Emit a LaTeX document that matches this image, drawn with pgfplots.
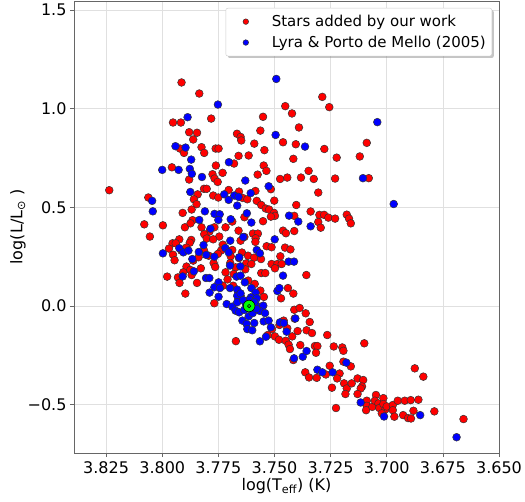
\documentclass[border=0pt]{standalone}
\usepackage{pgfplots}
\pgfplotsset{compat=1.18}
\usepackage{pgfplotstable}
\usepackage{fontspec}
\setmainfont{DejaVu Sans}
\usetikzlibrary{shadows}

\pgfplotstableread{
x y
3.7914 1.133
3.7835 1.077
3.7287 1.060
3.7256 1.008
3.7452 1.013
3.7422 0.976
3.7551 0.959
3.7782 0.950
3.7952 0.930
3.7917 0.930
3.7391 0.905
3.7563 0.889
3.7880 0.881
3.7845 0.878
3.7667 0.873
3.7651 0.857
3.7648 0.839
3.7862 0.844
3.7462 0.830
3.7590 0.823
3.7405 0.820
3.7089 0.827
3.7825 0.805
3.7762 0.798
3.7749 0.798
3.7921 0.798
3.7278 0.796
3.7545 0.790
3.7903 0.776
3.7813 0.776
3.7660 0.761
3.7615 0.763
3.7120 0.758
3.7223 0.752
3.7416 0.746
3.7761 0.712
3.7680 0.722
3.7548 0.712
3.7957 0.703
3.7536 0.685
3.7731 0.675
3.7575 0.666
3.7776 0.668
3.7767 0.646
3.7753 0.629
3.7880 0.641
3.7348 0.685
3.7325 0.644
3.7475 0.644
3.7443 0.651
3.7382 0.651
3.7230 0.646
3.7080 0.648
3.8236 0.587
3.7814 0.594
3.7802 0.594
3.7704 0.588
3.7658 0.580
3.7585 0.583
3.7516 0.592
3.7305 0.575
3.7842 0.566
3.7773 0.560
3.7750 0.550
3.7859 0.541
3.8062 0.550
3.7642 0.548
3.7621 0.541
3.7579 0.533
3.7501 0.534
3.7403 0.512
3.7847 0.516
3.7559 0.512
3.7539 0.494
3.7524 0.489
3.7869 0.489
3.7339 0.479
3.7909 0.472
3.7502 0.472
3.7498 0.457
3.7516 0.453
3.7300 0.462
3.7279 0.462
3.7178 0.463
3.7168 0.443
3.7160 0.419
3.7260 0.448
3.7230 0.443
3.7412 0.457
3.7634 0.450
3.7688 0.428
3.7551 0.430
3.7865 0.435
3.7899 0.399
3.7874 0.419
3.8080 0.414
3.7997 0.409
3.7825 0.399
3.7768 0.399
3.7718 0.399
3.7462 0.382
3.7449 0.369
3.7412 0.380
3.7305 0.426
3.7294 0.397
3.8055 0.352
3.7660 0.382
3.7790 0.377
3.7813 0.364
3.7746 0.352
3.7596 0.367
3.7574 0.367
3.7634 0.350
3.7584 0.343
3.7802 0.342
3.7773 0.338
3.7924 0.338
3.7871 0.335
3.7877 0.321
3.7954 0.318
3.7940 0.318
3.7651 0.331
3.7585 0.325
3.7730 0.311
3.7535 0.303
3.7513 0.298
3.7453 0.296
3.7429 0.287
3.7970 0.291
3.7915 0.281
3.7893 0.296
3.7814 0.282
3.7738 0.281
3.7688 0.284
3.7645 0.271
3.7618 0.255
3.7952 0.260
3.7945 0.232
3.7862 0.230
3.7838 0.247
3.7793 0.255
3.7752 0.264
3.7695 0.252
3.7658 0.243
3.7591 0.245
3.7560 0.238
3.7474 0.252
3.7513 0.213
3.7487 0.213
3.7468 0.213
3.7498 0.191
3.7771 0.218
3.7764 0.198
3.7697 0.218
3.7626 0.216
3.7603 0.213
3.7673 0.196
3.7630 0.186
3.7892 0.200
3.7875 0.183
3.7828 0.191
3.7906 0.171
3.7978 0.149
3.7930 0.145
3.7869 0.157
3.7718 0.171
3.7682 0.162
3.7559 0.167
3.7541 0.167
3.7358 0.157
3.7923 0.117
3.7845 0.117
3.7709 0.135
3.7730 0.103
3.7617 0.129
3.7588 0.112
3.7440 0.091
3.7897 0.063
3.7563 0.078
3.7416 0.063
3.7547 0.046
3.7471 0.039
3.7768 0.014
3.7651 0.052
3.7684 0.103
3.7412 -0.019
3.7388 -0.010
3.7361 -0.037
3.7343 -0.081
3.7410 -0.064
3.7459 -0.074
3.7478 -0.096
3.7443 -0.113
3.7397 -0.127
3.7357 -0.123
3.7333 -0.137
3.7265 -0.147
3.7511 -0.117
3.7498 -0.154
3.7480 -0.171
3.7450 -0.176
3.7437 -0.196
3.7421 -0.154
3.7672 -0.178
3.7530 -0.147
3.7385 -0.198
3.7431 -0.218
3.7320 -0.203
3.7309 -0.203
3.7236 -0.205
3.7198 -0.210
3.7193 -0.227
3.7100 -0.189
3.7315 -0.237
3.7416 -0.274
3.7254 -0.303
3.7193 -0.282
3.7160 -0.306
3.6875 -0.316
3.6837 -0.358
3.7363 -0.336
3.7346 -0.362
3.7312 -0.364
3.7271 -0.347
3.7210 -0.342
3.7221 -0.367
3.7244 -0.414
3.7190 -0.392
3.7178 -0.418
3.7156 -0.392
3.7130 -0.367
3.7105 -0.375
3.7110 -0.408
3.7116 -0.418
3.7184 -0.446
3.7130 -0.446
3.7226 -0.517
3.7089 -0.480
3.7089 -0.506
3.7092 -0.528
3.7064 -0.511
3.7048 -0.451
3.7053 -0.480
3.7037 -0.494
3.7033 -0.517
3.7015 -0.467
3.7015 -0.497
3.7006 -0.524
3.7022 -0.544
3.7000 -0.509
3.6973 -0.502
3.6973 -0.528
3.6966 -0.561
3.6951 -0.480
3.6920 -0.480
3.6927 -0.553
3.6905 -0.568
3.6892 -0.570
3.6893 -0.477
3.6859 -0.475
3.6881 -0.531
3.6788 -0.534
3.6658 -0.573
}\redstars

\pgfplotstableread{
x y
3.7492 1.151
3.7752 1.021
3.7887 0.957
3.7495 0.867
3.7042 0.932
3.7941 0.810
3.7896 0.803
3.7364 0.808
3.7871 0.742
3.8000 0.690
3.7927 0.690
3.7877 0.695
3.7868 0.670
3.7823 0.654
3.7703 0.729
3.7630 0.636
3.7526 0.607
3.7106 0.648
3.6969 0.517
3.8045 0.533
3.8042 0.480
3.7875 0.578
3.7724 0.566
3.7704 0.538
3.7679 0.560
3.7660 0.553
3.7666 0.509
3.7606 0.572
3.7810 0.480
3.7767 0.467
3.7744 0.465
3.7750 0.436
3.7835 0.436
3.7695 0.440
3.7623 0.470
3.7603 0.423
3.7435 0.458
3.7394 0.428
3.7339 0.404
3.7785 0.392
3.7816 0.309
3.7639 0.350
3.7697 0.331
3.7499 0.338
3.7997 0.267
3.7924 0.293
3.7906 0.272
3.7883 0.281
3.7837 0.274
3.7804 0.259
3.7866 0.238
3.7768 0.250
3.7719 0.294
3.7704 0.272
3.7657 0.247
3.7579 0.284
3.7565 0.267
3.7437 0.225
3.7413 0.225
3.7698 0.205
3.7652 0.201
3.7859 0.176
3.7909 0.150
3.7805 0.142
3.7790 0.142
3.7749 0.120
3.7669 0.149
3.7651 0.154
3.7462 0.154
3.7632 0.120
3.7768 0.095
3.7789 0.068
3.7743 0.091
3.7749 0.047
3.7698 0.091
3.7666 0.083
3.7666 0.052
3.7651 0.064
3.7603 0.091
3.7584 0.068
3.7605 0.044
3.7579 0.039
3.7487 0.076
3.7478 0.091
3.7713 0.010
3.7688 -0.003
3.7673 -0.024
3.7657 -0.032
3.7627 0.008
3.7581 0.003
3.7550 0.002
3.7565 -0.025
3.7542 -0.036
3.7615 -0.052
3.7643 -0.074
3.7624 -0.091
3.7590 -0.086
3.7548 -0.078
3.7526 -0.074
3.7621 -0.117
3.7599 -0.123
3.7565 -0.179
3.7538 -0.156
3.7516 -0.108
3.7476 -0.083
3.7458 -0.086
3.7446 -0.130
3.7407 -0.063
3.7413 -0.265
3.7374 -0.257
3.7357 -0.228
3.7309 -0.323
3.7287 -0.336
3.7241 -0.336
3.7180 -0.287
3.7116 -0.489
3.7012 -0.560
3.6851 -0.553
3.6689 -0.665
3.7612 0.032
3.7666 0.019
3.7597 -0.036
3.7640 0.030
3.7590 0.020
3.7635 -0.020
3.7580 -0.015
}\bluestars

\begin{document}
\begin{tikzpicture}
\begin{axis}[
  scale only axis,
  width=425pt, height=452pt,
  x dir=reverse,
  xmin=3.650, xmax=3.8393,
  ymin=-0.745, ymax=1.546,
  xtick={3.650,3.675,3.700,3.725,3.750,3.775,3.800,3.825},
  xticklabels={3.650,3.675,3.700,3.725,3.750,3.775,3.800,3.825},
  ytick={-0.5,0,0.5,1.0,1.5},
  yticklabels={−0.5,0.0,0.5,1.0,1.5},
  tick align=outside,
  tick pos=left,
  major tick length=4pt,
  every tick/.style={black!60, line width=0.7pt},
  axis line style={black!60, line width=0.8pt},
  grid=major,
  major grid style={black!12, line width=0.6pt},
  tick label style={font=\fontsize{16}{19}\selectfont},
  xticklabel style={yshift=-1pt},
  label style={font=\fontsize{16}{19}\selectfont},
  xlabel={log(T\textsubscript{eff}) (K)},
  ylabel={log(L/L\textsubscript{⊙} )},
  xlabel style={yshift=2pt},
  ylabel style={yshift=-5pt},
  legend style={
    at={(1,1)}, anchor=north east, xshift=-7pt, yshift=-7pt,
    font=\fontsize{15}{18}\selectfont,
    draw=black!20, rounded corners=2pt, fill=white,
    drop shadow={shadow xshift=2pt, shadow yshift=-2pt, fill=black!45},
    inner xsep=4pt, inner ysep=5pt,
    row sep=4pt,
    legend cell align=left,
  },
  legend image code/.code={\pgfpathmoveto{\pgfpointorigin}\pgfpathlineto{\pgfpoint{40pt}{0pt}}\pgfusepath{}\draw[#1] plot coordinates {(16pt,0pt)};},
  legend image post style={mark size=2.8pt, draw=none},
]
\addplot[only marks, mark=*, mark size=3.9pt, mark options={fill=red, draw=black!80, line width=0.5pt}] table[x=x,y=y] {\redstars};
\addlegendentry{Stars added by our work}
\addplot[only marks, mark=*, mark size=3.9pt, mark options={fill=blue, draw=black!80, line width=0.5pt}] table[x=x,y=y] {\bluestars};
\addlegendentry{Lyra \& Porto de Mello (2005)}
\addplot[only marks, mark=*, mark size=5.8pt, mark options={fill=green, draw=black, line width=0.6pt}, forget plot] coordinates {(3.7613,0.0)};
\addplot[only marks, mark=*, mark size=1.7pt, mark options={fill=green, draw=black, line width=0.6pt}, forget plot] coordinates {(3.7613,0.0)};
\end{axis}
\pgfresetboundingbox
\path[use as bounding box] ([shift={(-74pt,-48pt)}]current axis.south west) rectangle ([shift={(26pt,1pt)}]current axis.north east);
\end{tikzpicture}
\end{document}
